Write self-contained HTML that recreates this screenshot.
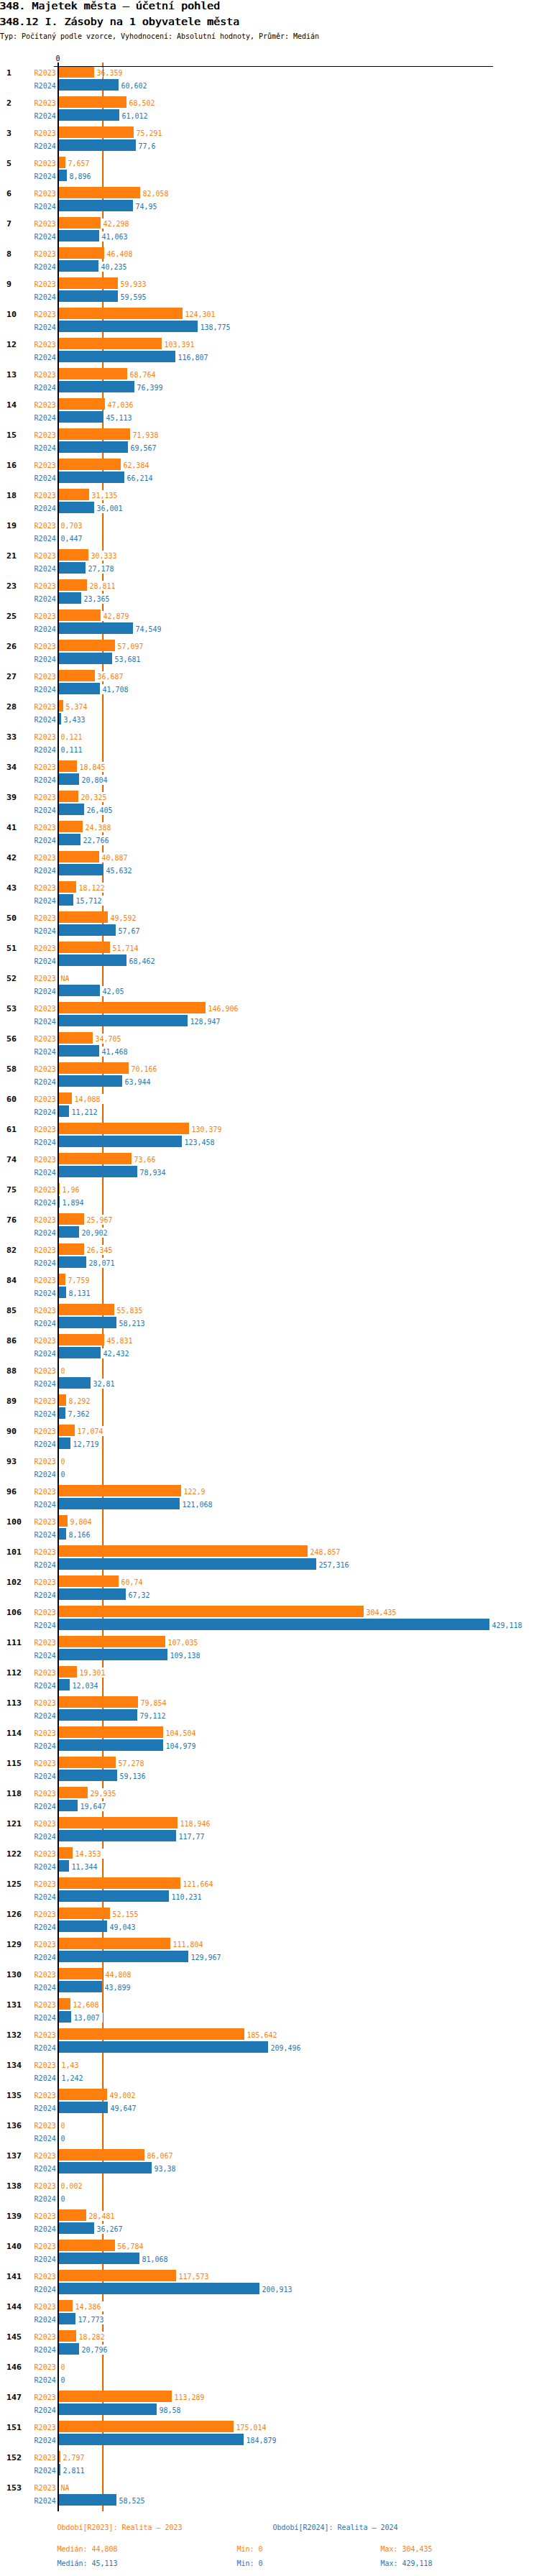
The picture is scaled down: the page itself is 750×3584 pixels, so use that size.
<!DOCTYPE html>
<html lang="cs"><head><meta charset="utf-8"><title>348.12 I. Zásoby na 1 obyvatele města</title>
<style>
html,body{margin:0;padding:0;background:#fff}
body{width:750px;height:3584px;position:relative;overflow:hidden;font-family:"DejaVu Sans Mono","Liberation Mono",monospace;font-size:10px;line-height:14px;color:#000}
div,span,b,i{position:absolute;white-space:pre}
.t{left:-1px;font-weight:normal;text-shadow:.6px 0 0 #000;font-size:14px;line-height:20px;transform:scaleX(1.071);transform-origin:0 0}
.g{left:0;width:750px;height:42px}
.g b{left:9px;top:3px;font-size:11px;line-height:14px;font-weight:bold;transform:scaleX(1.057);transform-origin:0 0}
.g i{left:47.6px;font-style:normal}
.o{color:#ff7f0e}.b{color:#1f77b4}
i.o{top:3px}i.b{top:21px}span.o{top:2px}span.b{top:20px}
.g u{position:absolute;left:80px;height:16px;display:block}
u.o{top:0;background:#ff7f0e}u.b{top:18px;background:#1f77b4}
.g span{background:#fff;padding:0 4.6px 0 1.4px;height:14px;line-height:16px;letter-spacing:-.02px}
.l{font-size:10px;line-height:14px;letter-spacing:-.02px}
</style></head>
<body>
<div class="t" style="top:-2px">348. Majetek města – účetní pohled</div>
<div class="t" style="top:20px">348.12 I. Zásoby na 1 obyvatele města</div>
<div class="l" style="left:0;top:44px">Typ: Počítaný podle vzorce, Vyhodnocení: Absolutní hodnoty, Průměr: Medián</div>
<div class="l" style="left:77.5px;top:75px">0</div>
<div style="left:142px;top:87px;width:1px;height:3407px;background:#ff7f0e"></div>
<div style="left:143px;top:87px;width:1px;height:3407px;background:#1f77b4"></div>
<div class="g" style="top:92px"><b>1</b><i class="o">R2023</i><i class="b">R2024</i><u class="o" style="width:51px"></u><span class="o" style="left:133px">36,359</span><u class="b" style="width:85px"></u><span class="b" style="left:167px">60,602</span></div>
<div class="g" style="top:134px"><b>2</b><i class="o">R2023</i><i class="b">R2024</i><u class="o" style="width:96px"></u><span class="o" style="left:178px">68,502</span><u class="b" style="width:86px"></u><span class="b" style="left:168px">61,012</span></div>
<div class="g" style="top:176px"><b>3</b><i class="o">R2023</i><i class="b">R2024</i><u class="o" style="width:106px"></u><span class="o" style="left:188px">75,291</span><u class="b" style="width:109px"></u><span class="b" style="left:191px">77,6</span></div>
<div class="g" style="top:218px"><b>5</b><i class="o">R2023</i><i class="b">R2024</i><u class="o" style="width:11px"></u><span class="o" style="left:93px">7,657</span><u class="b" style="width:13px"></u><span class="b" style="left:95px">8,896</span></div>
<div class="g" style="top:260px"><b>6</b><i class="o">R2023</i><i class="b">R2024</i><u class="o" style="width:115px"></u><span class="o" style="left:197px">82,058</span><u class="b" style="width:105px"></u><span class="b" style="left:187px">74,95</span></div>
<div class="g" style="top:302px"><b>7</b><i class="o">R2023</i><i class="b">R2024</i><u class="o" style="width:60px"></u><span class="o" style="left:142px">42,298</span><u class="b" style="width:58px"></u><span class="b" style="left:140px">41,063</span></div>
<div class="g" style="top:344px"><b>8</b><i class="o">R2023</i><i class="b">R2024</i><u class="o" style="width:65px"></u><span class="o" style="left:147px">46,408</span><u class="b" style="width:57px"></u><span class="b" style="left:139px">40,235</span></div>
<div class="g" style="top:386px"><b>9</b><i class="o">R2023</i><i class="b">R2024</i><u class="o" style="width:84px"></u><span class="o" style="left:166px">59,933</span><u class="b" style="width:84px"></u><span class="b" style="left:166px">59,595</span></div>
<div class="g" style="top:428px"><b>10</b><i class="o">R2023</i><i class="b">R2024</i><u class="o" style="width:174px"></u><span class="o" style="left:256px">124,301</span><u class="b" style="width:195px"></u><span class="b" style="left:277px">138,775</span></div>
<div class="g" style="top:470px"><b>12</b><i class="o">R2023</i><i class="b">R2024</i><u class="o" style="width:145px"></u><span class="o" style="left:227px">103,391</span><u class="b" style="width:164px"></u><span class="b" style="left:246px">116,807</span></div>
<div class="g" style="top:512px"><b>13</b><i class="o">R2023</i><i class="b">R2024</i><u class="o" style="width:97px"></u><span class="o" style="left:179px">68,764</span><u class="b" style="width:107px"></u><span class="b" style="left:189px">76,399</span></div>
<div class="g" style="top:554px"><b>14</b><i class="o">R2023</i><i class="b">R2024</i><u class="o" style="width:66px"></u><span class="o" style="left:148px">47,036</span><u class="b" style="width:64px"></u><span class="b" style="left:146px">45,113</span></div>
<div class="g" style="top:596px"><b>15</b><i class="o">R2023</i><i class="b">R2024</i><u class="o" style="width:101px"></u><span class="o" style="left:183px">71,938</span><u class="b" style="width:98px"></u><span class="b" style="left:180px">69,567</span></div>
<div class="g" style="top:638px"><b>16</b><i class="o">R2023</i><i class="b">R2024</i><u class="o" style="width:88px"></u><span class="o" style="left:170px">62,384</span><u class="b" style="width:93px"></u><span class="b" style="left:175px">66,214</span></div>
<div class="g" style="top:680px"><b>18</b><i class="o">R2023</i><i class="b">R2024</i><u class="o" style="width:44px"></u><span class="o" style="left:126px">31,135</span><u class="b" style="width:51px"></u><span class="b" style="left:133px">36,001</span></div>
<div class="g" style="top:722px"><b>19</b><i class="o">R2023</i><i class="b">R2024</i><span class="o" style="left:83px">0,703</span><span class="b" style="left:83px">0,447</span></div>
<div class="g" style="top:764px"><b>21</b><i class="o">R2023</i><i class="b">R2024</i><u class="o" style="width:43px"></u><span class="o" style="left:125px">30,333</span><u class="b" style="width:39px"></u><span class="b" style="left:121px">27,178</span></div>
<div class="g" style="top:806px"><b>23</b><i class="o">R2023</i><i class="b">R2024</i><u class="o" style="width:41px"></u><span class="o" style="left:123px">28,811</span><u class="b" style="width:33px"></u><span class="b" style="left:115px">23,365</span></div>
<div class="g" style="top:848px"><b>25</b><i class="o">R2023</i><i class="b">R2024</i><u class="o" style="width:60px"></u><span class="o" style="left:142px">42,879</span><u class="b" style="width:105px"></u><span class="b" style="left:187px">74,549</span></div>
<div class="g" style="top:890px"><b>26</b><i class="o">R2023</i><i class="b">R2024</i><u class="o" style="width:80px"></u><span class="o" style="left:162px">57,097</span><u class="b" style="width:76px"></u><span class="b" style="left:158px">53,681</span></div>
<div class="g" style="top:932px"><b>27</b><i class="o">R2023</i><i class="b">R2024</i><u class="o" style="width:52px"></u><span class="o" style="left:134px">36,687</span><u class="b" style="width:59px"></u><span class="b" style="left:141px">41,708</span></div>
<div class="g" style="top:974px"><b>28</b><i class="o">R2023</i><i class="b">R2024</i><u class="o" style="width:8px"></u><span class="o" style="left:90px">5,374</span><u class="b" style="width:5px"></u><span class="b" style="left:87px">3,433</span></div>
<div class="g" style="top:1016px"><b>33</b><i class="o">R2023</i><i class="b">R2024</i><span class="o" style="left:83px">0,121</span><span class="b" style="left:83px">0,111</span></div>
<div class="g" style="top:1058px"><b>34</b><i class="o">R2023</i><i class="b">R2024</i><u class="o" style="width:27px"></u><span class="o" style="left:109px">18,845</span><u class="b" style="width:30px"></u><span class="b" style="left:112px">20,804</span></div>
<div class="g" style="top:1100px"><b>39</b><i class="o">R2023</i><i class="b">R2024</i><u class="o" style="width:29px"></u><span class="o" style="left:111px">20,325</span><u class="b" style="width:37px"></u><span class="b" style="left:119px">26,405</span></div>
<div class="g" style="top:1142px"><b>41</b><i class="o">R2023</i><i class="b">R2024</i><u class="o" style="width:35px"></u><span class="o" style="left:117px">24,388</span><u class="b" style="width:32px"></u><span class="b" style="left:114px">22,766</span></div>
<div class="g" style="top:1184px"><b>42</b><i class="o">R2023</i><i class="b">R2024</i><u class="o" style="width:58px"></u><span class="o" style="left:140px">40,887</span><u class="b" style="width:64px"></u><span class="b" style="left:146px">45,632</span></div>
<div class="g" style="top:1226px"><b>43</b><i class="o">R2023</i><i class="b">R2024</i><u class="o" style="width:26px"></u><span class="o" style="left:108px">18,122</span><u class="b" style="width:22px"></u><span class="b" style="left:104px">15,712</span></div>
<div class="g" style="top:1268px"><b>50</b><i class="o">R2023</i><i class="b">R2024</i><u class="o" style="width:70px"></u><span class="o" style="left:152px">49,592</span><u class="b" style="width:81px"></u><span class="b" style="left:163px">57,67</span></div>
<div class="g" style="top:1310px"><b>51</b><i class="o">R2023</i><i class="b">R2024</i><u class="o" style="width:73px"></u><span class="o" style="left:155px">51,714</span><u class="b" style="width:96px"></u><span class="b" style="left:178px">68,462</span></div>
<div class="g" style="top:1352px"><b>52</b><i class="o">R2023</i><i class="b">R2024</i><span class="o" style="left:83px">NA</span><u class="b" style="width:59px"></u><span class="b" style="left:141px">42,05</span></div>
<div class="g" style="top:1394px"><b>53</b><i class="o">R2023</i><i class="b">R2024</i><u class="o" style="width:206px"></u><span class="o" style="left:288px">146,906</span><u class="b" style="width:181px"></u><span class="b" style="left:263px">128,947</span></div>
<div class="g" style="top:1436px"><b>56</b><i class="o">R2023</i><i class="b">R2024</i><u class="o" style="width:49px"></u><span class="o" style="left:131px">34,705</span><u class="b" style="width:58px"></u><span class="b" style="left:140px">41,468</span></div>
<div class="g" style="top:1478px"><b>58</b><i class="o">R2023</i><i class="b">R2024</i><u class="o" style="width:99px"></u><span class="o" style="left:181px">70,166</span><u class="b" style="width:90px"></u><span class="b" style="left:172px">63,944</span></div>
<div class="g" style="top:1520px"><b>60</b><i class="o">R2023</i><i class="b">R2024</i><u class="o" style="width:20px"></u><span class="o" style="left:102px">14,088</span><u class="b" style="width:16px"></u><span class="b" style="left:98px">11,212</span></div>
<div class="g" style="top:1562px"><b>61</b><i class="o">R2023</i><i class="b">R2024</i><u class="o" style="width:183px"></u><span class="o" style="left:265px">130,379</span><u class="b" style="width:173px"></u><span class="b" style="left:255px">123,458</span></div>
<div class="g" style="top:1604px"><b>74</b><i class="o">R2023</i><i class="b">R2024</i><u class="o" style="width:103px"></u><span class="o" style="left:185px">73,66</span><u class="b" style="width:111px"></u><span class="b" style="left:193px">78,934</span></div>
<div class="g" style="top:1646px"><b>75</b><i class="o">R2023</i><i class="b">R2024</i><u class="o" style="width:3px"></u><span class="o" style="left:85px">1,96</span><u class="b" style="width:3px"></u><span class="b" style="left:85px">1,894</span></div>
<div class="g" style="top:1688px"><b>76</b><i class="o">R2023</i><i class="b">R2024</i><u class="o" style="width:37px"></u><span class="o" style="left:119px">25,967</span><u class="b" style="width:30px"></u><span class="b" style="left:112px">20,902</span></div>
<div class="g" style="top:1730px"><b>82</b><i class="o">R2023</i><i class="b">R2024</i><u class="o" style="width:37px"></u><span class="o" style="left:119px">26,345</span><u class="b" style="width:40px"></u><span class="b" style="left:122px">28,071</span></div>
<div class="g" style="top:1772px"><b>84</b><i class="o">R2023</i><i class="b">R2024</i><u class="o" style="width:11px"></u><span class="o" style="left:93px">7,759</span><u class="b" style="width:12px"></u><span class="b" style="left:94px">8,131</span></div>
<div class="g" style="top:1814px"><b>85</b><i class="o">R2023</i><i class="b">R2024</i><u class="o" style="width:79px"></u><span class="o" style="left:161px">55,835</span><u class="b" style="width:82px"></u><span class="b" style="left:164px">58,213</span></div>
<div class="g" style="top:1856px"><b>86</b><i class="o">R2023</i><i class="b">R2024</i><u class="o" style="width:65px"></u><span class="o" style="left:147px">45,831</span><u class="b" style="width:60px"></u><span class="b" style="left:142px">42,432</span></div>
<div class="g" style="top:1898px"><b>88</b><i class="o">R2023</i><i class="b">R2024</i><span class="o" style="left:83px">0</span><u class="b" style="width:46px"></u><span class="b" style="left:128px">32,81</span></div>
<div class="g" style="top:1940px"><b>89</b><i class="o">R2023</i><i class="b">R2024</i><u class="o" style="width:12px"></u><span class="o" style="left:94px">8,292</span><u class="b" style="width:11px"></u><span class="b" style="left:93px">7,362</span></div>
<div class="g" style="top:1982px"><b>90</b><i class="o">R2023</i><i class="b">R2024</i><u class="o" style="width:24px"></u><span class="o" style="left:106px">17,074</span><u class="b" style="width:18px"></u><span class="b" style="left:100px">12,719</span></div>
<div class="g" style="top:2024px"><b>93</b><i class="o">R2023</i><i class="b">R2024</i><span class="o" style="left:83px">0</span><span class="b" style="left:83px">0</span></div>
<div class="g" style="top:2066px"><b>96</b><i class="o">R2023</i><i class="b">R2024</i><u class="o" style="width:172px"></u><span class="o" style="left:254px">122,9</span><u class="b" style="width:170px"></u><span class="b" style="left:252px">121,068</span></div>
<div class="g" style="top:2108px"><b>100</b><i class="o">R2023</i><i class="b">R2024</i><u class="o" style="width:14px"></u><span class="o" style="left:96px">9,804</span><u class="b" style="width:12px"></u><span class="b" style="left:94px">8,166</span></div>
<div class="g" style="top:2150px"><b>101</b><i class="o">R2023</i><i class="b">R2024</i><u class="o" style="width:348px"></u><span class="o" style="left:430px">248,857</span><u class="b" style="width:360px"></u><span class="b" style="left:442px">257,316</span></div>
<div class="g" style="top:2192px"><b>102</b><i class="o">R2023</i><i class="b">R2024</i><u class="o" style="width:85px"></u><span class="o" style="left:167px">60,74</span><u class="b" style="width:95px"></u><span class="b" style="left:177px">67,32</span></div>
<div class="g" style="top:2234px"><b>106</b><i class="o">R2023</i><i class="b">R2024</i><u class="o" style="width:426px"></u><span class="o" style="left:508px">304,435</span><u class="b" style="width:601px"></u><span class="b" style="left:683px">429,118</span></div>
<div class="g" style="top:2276px"><b>111</b><i class="o">R2023</i><i class="b">R2024</i><u class="o" style="width:150px"></u><span class="o" style="left:232px">107,035</span><u class="b" style="width:153px"></u><span class="b" style="left:235px">109,138</span></div>
<div class="g" style="top:2318px"><b>112</b><i class="o">R2023</i><i class="b">R2024</i><u class="o" style="width:27px"></u><span class="o" style="left:109px">19,301</span><u class="b" style="width:17px"></u><span class="b" style="left:99px">12,034</span></div>
<div class="g" style="top:2360px"><b>113</b><i class="o">R2023</i><i class="b">R2024</i><u class="o" style="width:112px"></u><span class="o" style="left:194px">79,854</span><u class="b" style="width:111px"></u><span class="b" style="left:193px">79,112</span></div>
<div class="g" style="top:2402px"><b>114</b><i class="o">R2023</i><i class="b">R2024</i><u class="o" style="width:147px"></u><span class="o" style="left:229px">104,504</span><u class="b" style="width:147px"></u><span class="b" style="left:229px">104,979</span></div>
<div class="g" style="top:2444px"><b>115</b><i class="o">R2023</i><i class="b">R2024</i><u class="o" style="width:81px"></u><span class="o" style="left:163px">57,278</span><u class="b" style="width:83px"></u><span class="b" style="left:165px">59,136</span></div>
<div class="g" style="top:2486px"><b>118</b><i class="o">R2023</i><i class="b">R2024</i><u class="o" style="width:42px"></u><span class="o" style="left:124px">29,935</span><u class="b" style="width:28px"></u><span class="b" style="left:110px">19,647</span></div>
<div class="g" style="top:2528px"><b>121</b><i class="o">R2023</i><i class="b">R2024</i><u class="o" style="width:167px"></u><span class="o" style="left:249px">118,946</span><u class="b" style="width:165px"></u><span class="b" style="left:247px">117,77</span></div>
<div class="g" style="top:2570px"><b>122</b><i class="o">R2023</i><i class="b">R2024</i><u class="o" style="width:21px"></u><span class="o" style="left:103px">14,353</span><u class="b" style="width:16px"></u><span class="b" style="left:98px">11,344</span></div>
<div class="g" style="top:2612px"><b>125</b><i class="o">R2023</i><i class="b">R2024</i><u class="o" style="width:171px"></u><span class="o" style="left:253px">121,664</span><u class="b" style="width:155px"></u><span class="b" style="left:237px">110,231</span></div>
<div class="g" style="top:2654px"><b>126</b><i class="o">R2023</i><i class="b">R2024</i><u class="o" style="width:73px"></u><span class="o" style="left:155px">52,155</span><u class="b" style="width:69px"></u><span class="b" style="left:151px">49,043</span></div>
<div class="g" style="top:2696px"><b>129</b><i class="o">R2023</i><i class="b">R2024</i><u class="o" style="width:157px"></u><span class="o" style="left:239px">111,804</span><u class="b" style="width:182px"></u><span class="b" style="left:264px">129,967</span></div>
<div class="g" style="top:2738px"><b>130</b><i class="o">R2023</i><i class="b">R2024</i><u class="o" style="width:63px"></u><span class="o" style="left:145px">44,808</span><u class="b" style="width:62px"></u><span class="b" style="left:144px">43,899</span></div>
<div class="g" style="top:2780px"><b>131</b><i class="o">R2023</i><i class="b">R2024</i><u class="o" style="width:18px"></u><span class="o" style="left:100px">12,608</span><u class="b" style="width:19px"></u><span class="b" style="left:101px">13,007</span></div>
<div class="g" style="top:2822px"><b>132</b><i class="o">R2023</i><i class="b">R2024</i><u class="o" style="width:260px"></u><span class="o" style="left:342px">185,642</span><u class="b" style="width:293px"></u><span class="b" style="left:375px">209,496</span></div>
<div class="g" style="top:2864px"><b>134</b><i class="o">R2023</i><i class="b">R2024</i><span class="o" style="left:84px">1,43</span><span class="b" style="left:84px">1,242</span></div>
<div class="g" style="top:2906px"><b>135</b><i class="o">R2023</i><i class="b">R2024</i><u class="o" style="width:69px"></u><span class="o" style="left:151px">49,002</span><u class="b" style="width:70px"></u><span class="b" style="left:152px">49,647</span></div>
<div class="g" style="top:2948px"><b>136</b><i class="o">R2023</i><i class="b">R2024</i><span class="o" style="left:83px">0</span><span class="b" style="left:83px">0</span></div>
<div class="g" style="top:2990px"><b>137</b><i class="o">R2023</i><i class="b">R2024</i><u class="o" style="width:121px"></u><span class="o" style="left:203px">86,067</span><u class="b" style="width:131px"></u><span class="b" style="left:213px">93,38</span></div>
<div class="g" style="top:3032px"><b>138</b><i class="o">R2023</i><i class="b">R2024</i><span class="o" style="left:83px">0,002</span><span class="b" style="left:83px">0</span></div>
<div class="g" style="top:3074px"><b>139</b><i class="o">R2023</i><i class="b">R2024</i><u class="o" style="width:40px"></u><span class="o" style="left:122px">28,481</span><u class="b" style="width:51px"></u><span class="b" style="left:133px">36,267</span></div>
<div class="g" style="top:3116px"><b>140</b><i class="o">R2023</i><i class="b">R2024</i><u class="o" style="width:80px"></u><span class="o" style="left:162px">56,784</span><u class="b" style="width:114px"></u><span class="b" style="left:196px">81,068</span></div>
<div class="g" style="top:3158px"><b>141</b><i class="o">R2023</i><i class="b">R2024</i><u class="o" style="width:165px"></u><span class="o" style="left:247px">117,573</span><u class="b" style="width:281px"></u><span class="b" style="left:363px">200,913</span></div>
<div class="g" style="top:3200px"><b>144</b><i class="o">R2023</i><i class="b">R2024</i><u class="o" style="width:21px"></u><span class="o" style="left:103px">14,386</span><u class="b" style="width:25px"></u><span class="b" style="left:107px">17,773</span></div>
<div class="g" style="top:3242px"><b>145</b><i class="o">R2023</i><i class="b">R2024</i><u class="o" style="width:26px"></u><span class="o" style="left:108px">18,282</span><u class="b" style="width:30px"></u><span class="b" style="left:112px">20,796</span></div>
<div class="g" style="top:3284px"><b>146</b><i class="o">R2023</i><i class="b">R2024</i><span class="o" style="left:83px">0</span><span class="b" style="left:83px">0</span></div>
<div class="g" style="top:3326px"><b>147</b><i class="o">R2023</i><i class="b">R2024</i><u class="o" style="width:159px"></u><span class="o" style="left:241px">113,289</span><u class="b" style="width:138px"></u><span class="b" style="left:220px">98,58</span></div>
<div class="g" style="top:3368px"><b>151</b><i class="o">R2023</i><i class="b">R2024</i><u class="o" style="width:245px"></u><span class="o" style="left:327px">175,014</span><u class="b" style="width:259px"></u><span class="b" style="left:341px">184,879</span></div>
<div class="g" style="top:3410px"><b>152</b><i class="o">R2023</i><i class="b">R2024</i><u class="o" style="width:4px"></u><span class="o" style="left:86px">2,797</span><u class="b" style="width:4px"></u><span class="b" style="left:86px">2,811</span></div>
<div class="g" style="top:3452px"><b>153</b><i class="o">R2023</i><i class="b">R2024</i><span class="o" style="left:83px">NA</span><u class="b" style="width:82px"></u><span class="b" style="left:164px">58,525</span></div>
<div style="left:143px;top:92px;width:1px;height:16px;background:#1f77b4"></div>
<div style="left:75px;top:92px;width:611px;height:1px;background:#000"></div>
<div style="left:80px;top:87px;width:2px;height:3407px;background:#000"></div>
<div class="l o" style="left:79.6px;top:3510px">Období[R2023]: Realita – 2023</div>
<div class="l b" style="left:379.6px;top:3510px">Období[R2024]: Realita – 2024</div>
<div class="l o" style="left:79.6px;top:3540px">Medián: 44,808</div>
<div class="l o" style="left:329.6px;top:3540px">Min: 0</div>
<div class="l o" style="left:529.6px;top:3540px">Max: 304,435</div>
<div class="l b" style="left:79.6px;top:3560px">Medián: 45,113</div>
<div class="l b" style="left:329.6px;top:3560px">Min: 0</div>
<div class="l b" style="left:529.6px;top:3560px">Max: 429,118</div>
</body></html>
